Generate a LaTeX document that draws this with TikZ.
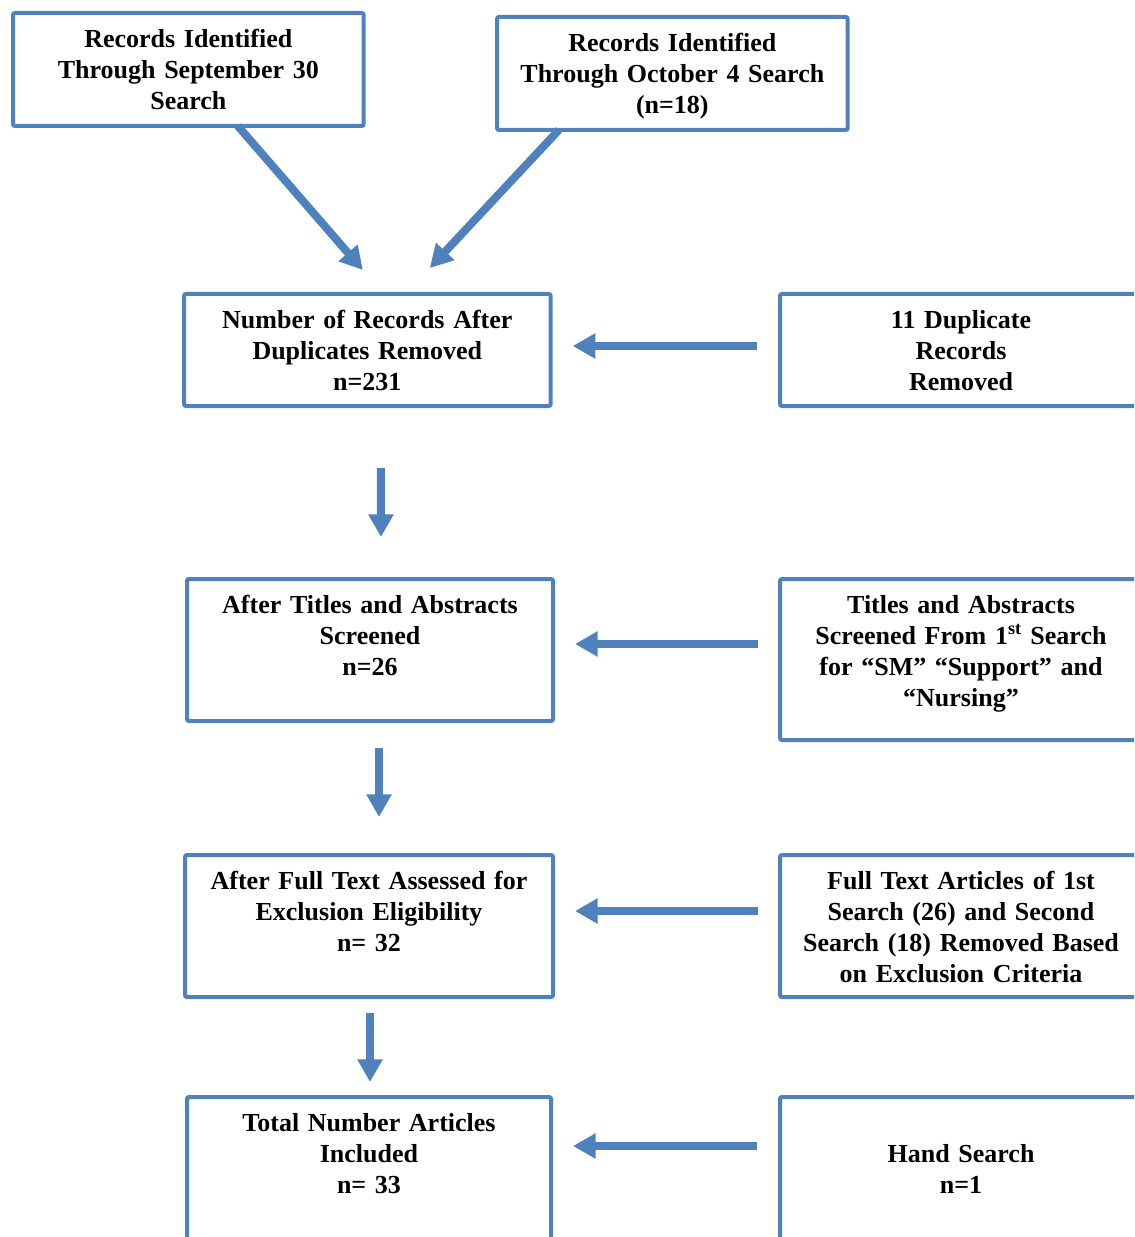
\documentclass[tikz,border=0pt]{standalone}
\usepackage{fontspec}
\setmainfont{Liberation Serif}
\definecolor{flowblue}{RGB}{79, 129, 189}
\usepackage{tikz}
\usetikzlibrary{arrows.meta, positioning, calc}
\tikzset{
    stagebox/.style={rectangle, rounded corners=1.5pt, draw=flowblue, line width=3pt, fill=white,
                     outer sep=0pt, inner xsep=8pt, inner ysep=10pt, text width=240pt,
                     text height=16pt, align=center, anchor=north west,
                     font=\bfseries\fontsize{19.5}{23.25}\selectfont},
    flowarrow/.style={-{Triangle[width=18pt, length=17pt]}, line width=6pt, flowblue},
}

\begin{document}
\begin{tikzpicture}[x=0.75pt, y=-0.75pt]
            \useasboundingbox (0, 0) rectangle (1134, 1237);
            \clip (0, 0) rectangle (1134, 1237);

            \node[stagebox, minimum width=263pt, text depth=48.75pt] (sep) at (13, 13) {Records Identified\\ Through September 30\\ Search};
            \node[stagebox, minimum width=263pt, text depth=48.75pt] (oct) at (497, 17) {Records Identified\\ Through October 4 Search\\ (n=18)};
            \node[stagebox, minimum width=275pt, text depth=48pt] (after) at (184, 294) {Number of Records After\\ Duplicates Removed\\ n=231};
            \node[stagebox, minimum width=271.5pt, text depth=48pt] (dup) at (780, 294) {11 Duplicate\\ Records\\ Removed};
            \node[stagebox, minimum width=274.5pt, text depth=70.5pt] (titles) at (187, 579) {After Titles and Abstracts\\ Screened\\ n=26};
            \node[stagebox, minimum width=271.5pt, text depth=84.75pt] (titr) at (780, 579) {Titles and Abstracts\\ Screened From 1\textsuperscript{st} Search\\ for “SM” “Support” and\\ “Nursing”};
            \node[stagebox, minimum width=276pt, text depth=70.5pt] (full) at (185, 855) {After Full Text Assessed for\\ Exclusion Eligibility\\ n= 32};
            \node[stagebox, minimum width=271.5pt, text depth=70.5pt] (fullr) at (780, 855) {Full Text Articles of 1st\\ Search (26) and Second\\ Search (18) Removed Based\\ on Exclusion Criteria};
            \node[stagebox, minimum width=273pt, text depth=101.25pt] (total) at (187, 1097) {Total Number Articles\\ Included\\ n= 33};
            \node[stagebox, minimum width=271.5pt, text height=39pt, text depth=78.25pt] (hand) at (780, 1097) {Hand Search\\ n=1};

            % searches into the merged set
            \draw[flowarrow] ($(sep.south)+(49.5, 0)$) -- ($(after.north)+(-4.5, -24)$);
            \draw[flowarrow] ($(oct.south)+(-113.5, 0)$) -- ($(after.north)+(62.5, -26)$);

            % removed records
            \draw[flowarrow] ($(dup.west)+(-23, -4)$) -- ($(after.east)+(22, -4)$);
            \draw[flowarrow] ($(titr.west |- titles.east)+(-22, -6)$) -- ($(titles.east)+(22, -6)$);
            \draw[flowarrow] ($(fullr.west)+(-22, -15)$) -- ($(full.east)+(22, -15)$);
            \draw[flowarrow] ($(hand.west)+(-23, -42.5)$) -- ($(total.east)+(22, -42.5)$);

            % main flow
            \draw[flowarrow] ($(after.south)+(13.5, 62)$) -- ($(titles.north)+(11, -42)$);
            \draw[flowarrow] ($(titles.south)+(9, 27)$) -- ($(full.north)+(10, -38)$);
            \draw[flowarrow] ($(full.south)+(1, 16)$) -- ($(total.north)+(1, -15)$);
        \end{tikzpicture}
\end{document}
